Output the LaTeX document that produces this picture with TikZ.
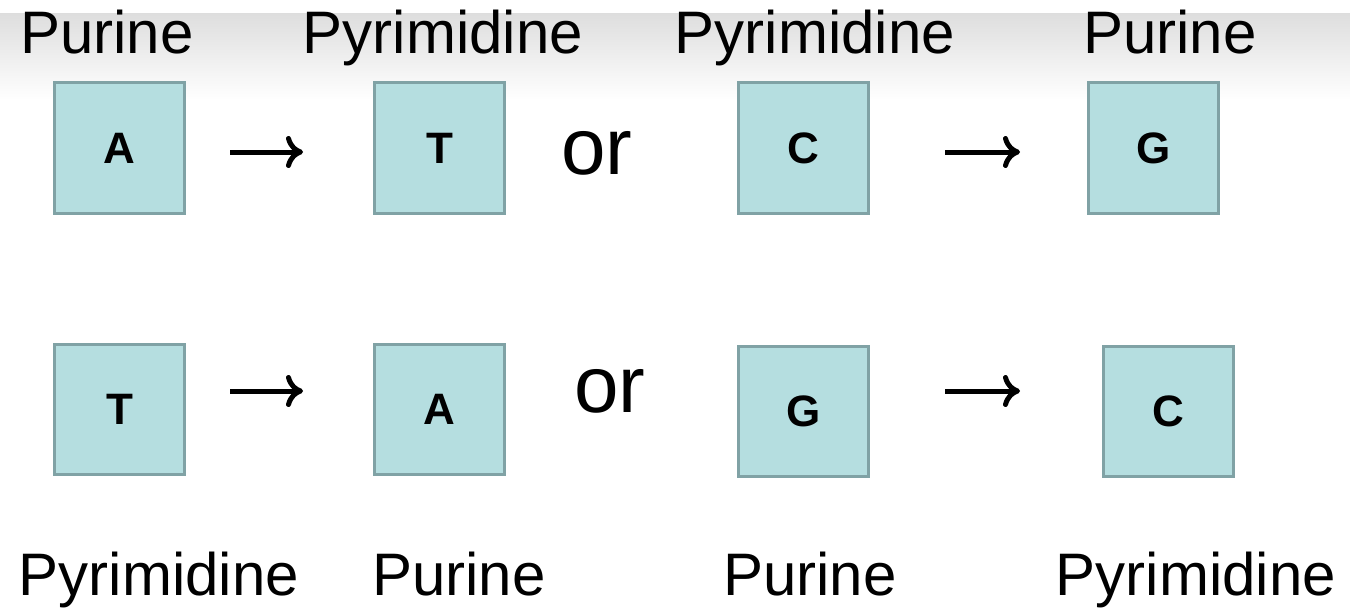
\documentclass[tikz,border=0pt]{standalone}
\usepackage{fontspec}
\setmainfont{Liberation Sans}
\usetikzlibrary{arrows.meta}
\definecolor{boxfill}{RGB}{181,222,224}
\definecolor{boxline}{RGB}{128,162,165}
\tikzset{
  base/.style={draw=boxline, fill=boxfill, line width=3pt, minimum width=130pt, minimum height=130pt, inner sep=0pt, font=\fontsize{44}{46}\selectfont\bfseries},
  lbl/.style={anchor=base, inner sep=0pt, font=\fontsize{60}{62}\selectfont},
  ortext/.style={anchor=base, inner sep=0pt, font=\fontsize{80}{82}\selectfont},
  arr/.style={line width=5pt, -{Computer Modern Rightarrow[length=17pt,width=32pt,line width=5pt]}}
}
\begin{document}
\begin{tikzpicture}[x=1pt,y=-1pt]
\useasboundingbox (0,0) rectangle (1350,610);
\shade[top color=black!13, bottom color=white] (0,14) rectangle (1350,100);
% top labels
\node[lbl] (l1) at (107,54) {Purine};
\node[lbl] (l2) at (443,54) {Pyrimidine};
\node[lbl] (l3) at (815,54) {Pyrimidine};
\node[lbl] (l4) at (1170,54) {Purine};
% row 1
\node[base] (b1) at (119.5,148) {A};
\node[base] (b2) at (439.5,148) {T};
\node[base] (b3) at (803.5,148) {C};
\node[base] (b4) at (1153.5,148) {G};
\node[ortext] (or1) at (597,174) {or};
\coordinate (a1s) at (230,152);
\coordinate (a1e) at (303,152);
\coordinate (a2s) at (945,152);
\coordinate (a2e) at (1020,152);
\draw[arr] (a1s) -- (a1e);
\draw[arr] (a2s) -- (a2e);
% row 2
\node[base] (c1) at (119.5,409) {T};
\node[base] (c2) at (439.5,409) {A};
\node[base] (c3) at (803.5,411) {G};
\node[base] (c4) at (1168.5,411) {C};
\node[ortext] (or2) at (610,412) {or};
\coordinate (a3s) at (230,391);
\coordinate (a3e) at (303,391);
\coordinate (a4s) at (945,391);
\coordinate (a4e) at (1020,391);
\draw[arr] (a3s) -- (a3e);
\draw[arr] (a4s) -- (a4e);
% bottom labels
\node[lbl] (m1) at (159,595) {Pyrimidine};
\node[lbl] (m2) at (459,595) {Purine};
\node[lbl] (m3) at (810,595) {Purine};
\node[lbl] (m4) at (1196,595) {Pyrimidine};
\end{tikzpicture}
\end{document}
